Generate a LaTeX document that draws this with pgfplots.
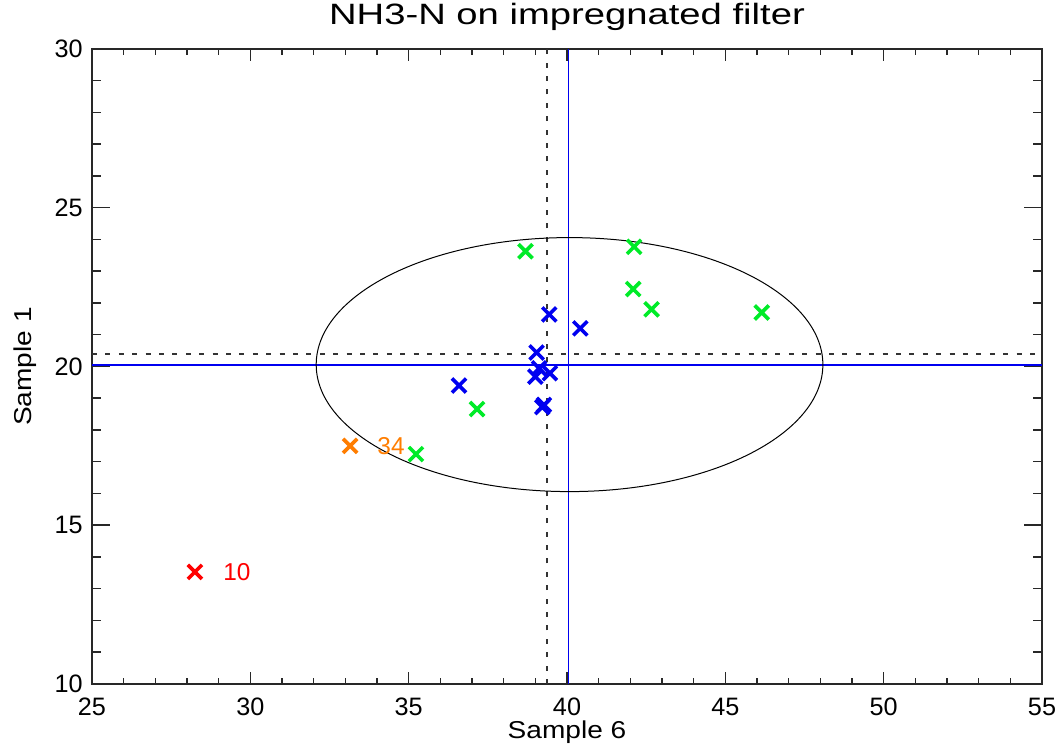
\documentclass[border=0pt]{standalone}
\usepackage{fontspec}
\setmainfont{Liberation Sans}
\newfontfamily\labfont[FakeStretch=1.15]{Liberation Sans}
\newfontfamily\titfont[FakeStretch=1.3]{Liberation Sans}
\usepackage{pgfplots}
\pgfplotsset{compat=1.18}
\definecolor{cgreen}{RGB}{0,235,40}
\definecolor{cblue}{RGB}{0,0,240}
\definecolor{corange}{RGB}{255,125,0}
\definecolor{cred}{RGB}{255,0,0}
\definecolor{axgray}{RGB}{40,40,40}
\begin{document}
\begin{tikzpicture}
\useasboundingbox (-46pt,-32.5pt) rectangle (483.5pt,342pt);
\begin{axis}[
  at={(0,0)}, anchor=south west,
  scale only axis, width=475pt, height=317.5pt,
  xmin=25, xmax=55, ymin=10, ymax=30,
  xtick={25,30,...,55}, ytick={10,15,...,30},
  minor tick num=4,
  tick align=inside,
  axis line style={axgray, line width=0.75pt},
  every tick/.style={axgray, line width=0.75pt},
  major tick length=9pt, minor tick length=4.5pt,
  xtick style={/pgfplots/major tick length=6pt,/pgfplots/minor tick length=3pt},
  /pgf/number format/assume math mode=true,
  tick label style={font=\fontsize{12.6}{15}\selectfont, inner sep=0pt},
  xticklabel style={anchor=north, yshift=-7pt},
  yticklabel style={anchor=east, xshift=-4.5pt},
  title={NH3-N on impregnated filter},
  title style={font=\titfont\fontsize{14.7}{17}\selectfont, at={(axis description cs:0.5,1)}, anchor=base, yshift=6pt, inner sep=0pt},
  xlabel={Sample 6},
  ylabel={Sample 1},
  xlabel style={font=\labfont\fontsize{12.2}{15}\selectfont, at={(axis description cs:0.5,-0.0866)}, anchor=base, inner sep=0pt},
  ylabel style={font=\labfont\fontsize{12.2}{15}\selectfont, at={(axis description cs:-0.0636,0.5)}, anchor=base, inner sep=0pt},
]
% reference lines
\addplot[draw=cblue, line width=0.7pt] coordinates {(25,20.05) (55,20.05)};
\addplot[draw=cblue, line width=0.8pt] coordinates {(40.05,10) (40.05,30)};
\addplot[draw=black!80, line width=0.7pt, dash pattern=on 2.5pt off 4.2pt] coordinates {(39.37,10) (39.37,30)};
\addplot[draw=black!80, line width=0.7pt, dash pattern=on 2.5pt off 4.2pt] coordinates {(25,20.39) (55,20.39)};
\draw[black, line width=0.5pt] (axis cs:40.08,20.06) ellipse [x radius=8, y radius=4];
% points
\addplot[only marks, mark=x, mark size=5pt, mark options={line width=1.8pt, cgreen}] coordinates {
 (35.23,17.24) (37.16,18.66) (38.69,23.63) (42.12,23.77) (42.09,22.44) (42.67,21.80) (46.15,21.70)
};
\addplot[only marks, mark=x, mark size=5pt, mark options={line width=1.8pt, cblue}] coordinates {
 (36.59,19.40) (39.44,21.64) (40.42,21.20) (39.04,20.44) (39.12,19.94) (39.00,19.68) (39.46,19.79) (39.27,18.79) (39.22,18.72)
};
\addplot[only marks, mark=x, mark size=5pt, mark options={line width=1.8pt, corange}] coordinates {(33.15,17.50)};
\addplot[only marks, mark=x, mark size=5pt, mark options={line width=1.8pt, cred}] coordinates {(28.25,13.53)};
\node[anchor=west, text=corange, font=\fontsize{12.2}{15}\selectfont, inner sep=0pt] at (axis cs:33.15,17.50) [xshift=13.5pt] {34};
\node[anchor=west, text=cred, font=\fontsize{12.2}{15}\selectfont, inner sep=0pt] at (axis cs:28.25,13.53) [xshift=14pt] {10};
\end{axis}
\end{tikzpicture}
\end{document}
